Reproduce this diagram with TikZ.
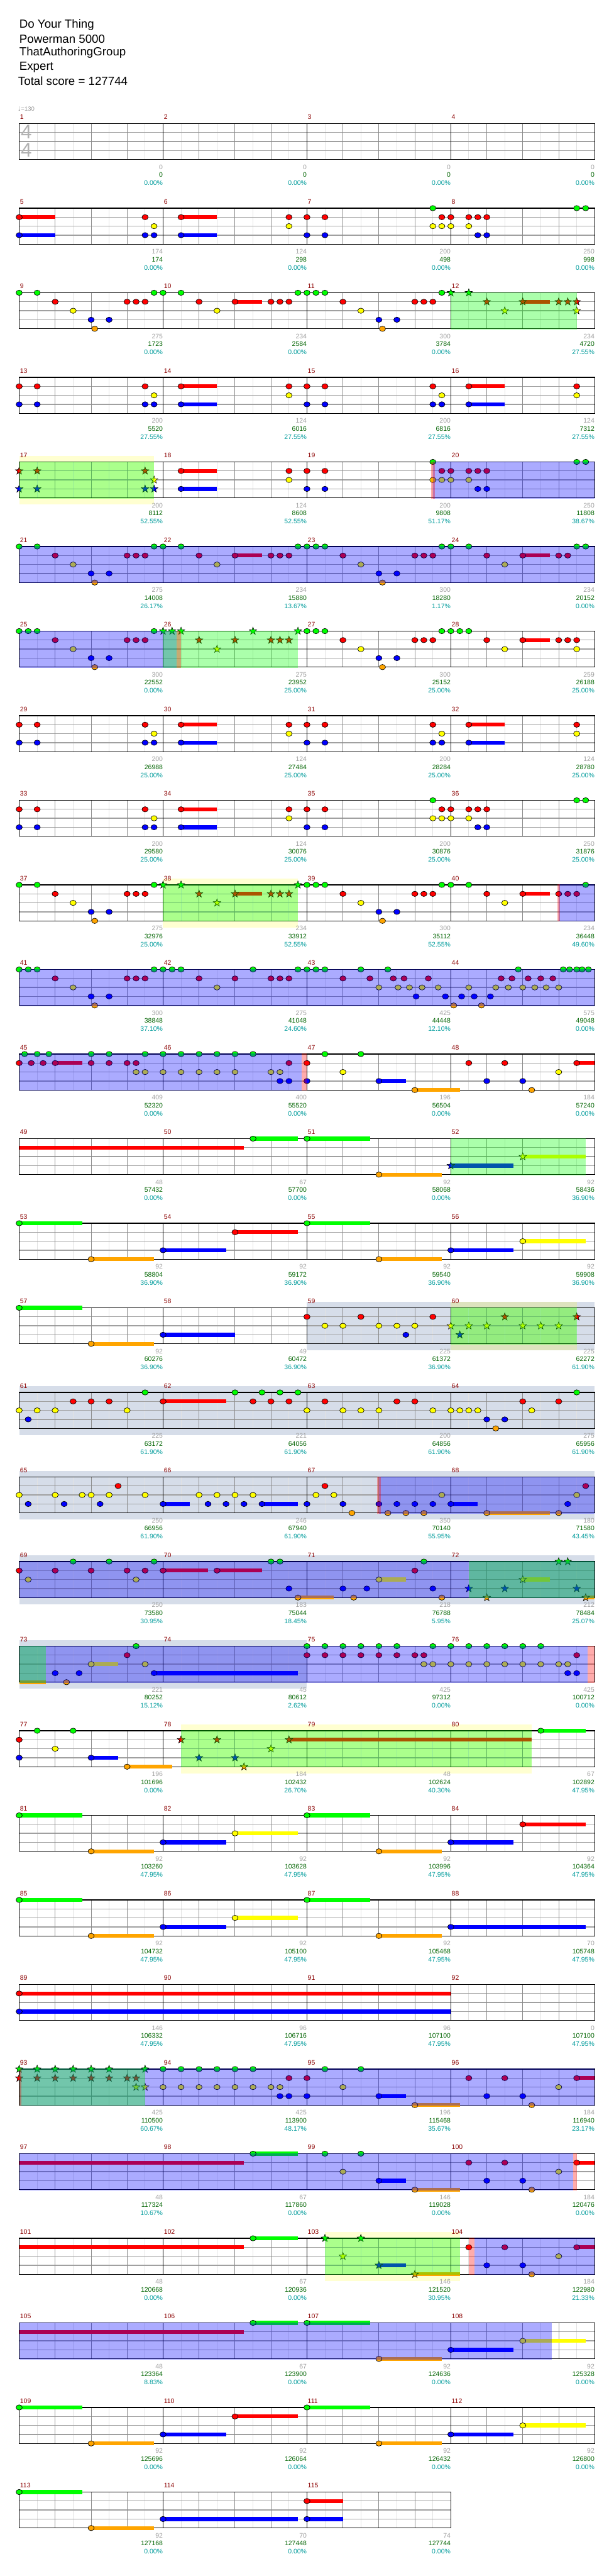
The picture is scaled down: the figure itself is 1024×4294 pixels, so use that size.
\documentclass[tikz,border=0pt]{standalone}
\usepackage{fontspec}
\setmainfont{Liberation Sans}
\newfontfamily\djv{DejaVu Sans}
\definecolor{cG}{HTML}{00FF00}
\definecolor{cR}{HTML}{FF0000}
\definecolor{cY}{HTML}{FFFF00}
\definecolor{cB}{HTML}{0000FF}
\definecolor{cO}{HTML}{FFA500}
\definecolor{gband}{HTML}{D6DDE9}
\definecolor{numgray}{HTML}{A0A0A0}
\definecolor{numgreen}{HTML}{006400}
\definecolor{numteal}{HTML}{009C9C}
\definecolor{mred}{HTML}{8B0000}
\definecolor{eighth}{HTML}{E2E2E2}
\definecolor{strg}{HTML}{A0A0A0}
\definecolor{beatg}{HTML}{8C8C8C}
\tikzset{
  eline/.style={draw=eighth,line width=0.5pt},
  sline/.style={draw=strg,line width=0.7pt},
  bline/.style={draw=beatg,line width=0.5pt},
  barl/.style={draw=black,line width=0.5pt},
  boxl/.style={draw=black,line width=0.75pt},
  gnum/.style={anchor=east,inner sep=0pt,text=numgray,font=\fontsize{5.5}{6}\selectfont},
  cnum/.style={anchor=east,inner sep=0pt,text=numgreen,font=\fontsize{5.5}{6}\selectfont},
  pnum/.style={anchor=east,inner sep=0pt,text=numteal,font=\fontsize{5.5}{6}\selectfont},
  mnum/.style={anchor=west,inner sep=0pt,text=mred,font=\fontsize{5.5}{6}\selectfont},
  ttl/.style={anchor=west,inner sep=0pt,font=\fontsize{9.8}{12}\selectfont},
  tsig/.style={inner sep=0pt,text=black!30,font=\fontsize{16.5}{17}\selectfont},
}
\def\setrow#1{\pgfmathsetmacro\T{206+141*(#1)}\def\rw{#1}}
\def\grid#1{%
  \pgfmathsetmacro\xe{32+240*(#1)}%
  \pgfmathtruncatemacro\ne{8*(#1)}%
  \foreach \i in {1,...,\ne}{\draw[eline] ({32+30*\i},\T) -- ({32+30*\i},{\T+60});}%
  \foreach \k in {1,2,3}{\draw[sline] (32,{\T+15*\k}) -- (\xe,{\T+15*\k});}%
  \foreach \i in {2,4,...,\ne}{\draw[bline] ({32+30*\i},\T) -- ({32+30*\i},{\T+60});}%
  \foreach \i in {8,16,...,\ne}{\draw[barl] ({32+30*\i},\T) -- ({32+30*\i},{\T+60});}%
  \draw[boxl] (32,\T) rectangle (\xe,{\T+60});%
}
\def\nt#1#2#3{\filldraw[fill=#3,draw=black,line width=0.35pt] ({32+30*(#1)},{\T+15*(#2)}) ellipse [x radius=2.6pt, y radius=2.2pt];}
\def\stn#1#2#3{\filldraw[fill=#3,draw=black,line width=0.3pt,shift={({32+30*(#1)},{\T+15*(#2)})}] (90:3.3pt) -- (126:1.35pt) -- (162:3.3pt) -- (198:1.35pt) -- (234:3.3pt) -- (270:1.35pt) -- (306:3.3pt) -- (342:1.35pt) -- (18:3.3pt) -- (54:1.35pt) -- cycle;}
\def\Su#1#2#3#4{\fill[#4] ({32+30*(#1)},{\T+15*(#3)-3.3}) rectangle ({32+30*(#2)},{\T+15*(#3)+3.3});}
\def\nG#1{\foreach \p in {#1}{\nt{\p}{0}{cG}}}
\def\nR#1{\foreach \p in {#1}{\nt{\p}{1}{cR}}}
\def\nY#1{\foreach \p in {#1}{\nt{\p}{2}{cY}}}
\def\nB#1{\foreach \p in {#1}{\nt{\p}{3}{cB}}}
\def\nO#1{\foreach \p in {#1}{\nt{\p}{4}{cO}}}
\def\sG#1{\foreach \p in {#1}{\stn{\p}{0}{cG}}}
\def\sR#1{\foreach \p in {#1}{\stn{\p}{1}{cR}}}
\def\sY#1{\foreach \p in {#1}{\stn{\p}{2}{cY}}}
\def\sB#1{\foreach \p in {#1}{\stn{\p}{3}{cB}}}
\def\sO#1{\foreach \p in {#1}{\stn{\p}{4}{cO}}}
\def\ovSP#1#2{\fill[cB,opacity=0.33] ({32+30*(#1)},{\T-0.8}) rectangle ({32+30*(#2)},{\T+60.8});}
\def\ovGP#1#2{\fill[cG,opacity=0.33] ({32+30*(#1)},{\T-0.8}) rectangle ({32+30*(#2)},{\T+60.8});}
\def\ovPK#1#2{\fill[cR,opacity=0.33] ({32+30*(#1)},{\T-0.8}) rectangle ({32+30*(#2)},{\T+60.8});}
\def\ovYB#1#2{\fill[cY,opacity=0.18] ({32+30*(#1)},{\T-10}) rectangle ({32+30*(#2)},{\T+71});}
\def\ovGB#1#2{\fill[gband] ({32+30*(#1)},{\T-10}) rectangle ({32+30*(#2)},{\T+71});}
\def\RT#1#2#3#4{%
  \foreach \g [count=\k from 0] in {#2}{\pgfmathtruncatemacro\mm{#1+\k}\node[mnum] (m\mm) at ({33+240*\k},{\T-11}) {\mm};}%
  \foreach \g [count=\k] in {#2}{\node[gnum] (g\rw-\k) at ({32+240*\k},{\T+72.5}) {\g};}%
  \foreach \g [count=\k] in {#3}{\node[cnum] (c\rw-\k) at ({32+240*\k},{\T+85.5}) {\g};}%
  \foreach \g [count=\k] in {#4}{\node[pnum] (p\rw-\k) at ({32+240*\k},{\T+99}) {\g\%};}%
}
\def\patC{%
  \Su{9}{11}{1}{cR}\Su{25}{27}{1}{cR}\Su{9}{11}{3}{cB}\Su{25}{27}{3}{cB}%
  \nR{0,1,7,9,15,16,17,23,25,31}\nY{7.5,15,23.5,31}\nB{0,1,7,7.5,9,16,17,23,23.5,25}}
\def\patL{%
  \Su{0}{3.5}{0}{cG}\Su{4}{7.5}{4}{cO}\Su{8}{11.5}{3}{cB}\Su{16}{19.5}{0}{cG}\Su{20}{23.5}{4}{cO}\Su{24}{27.5}{3}{cB}%
  \nG{0,16}\nO{4,20}\nB{8,24}}
\begin{document}
\begin{tikzpicture}[x=0.5pt,y=-0.5pt]
\useasboundingbox (0,0) rectangle (1024,4294);
\fill[white] (0,0) rectangle (1024,4294);
% header
\node[ttl] (t1) at (32,42) {Do Your Thing};
\node[ttl] (t2) at (32,65) {Powerman 5000};
\node[ttl] (t3) at (32,88) {ThatAuthoringGroup};
\node[ttl] (t4) at (32,112) {Expert};
\node[ttl] (t5) at (30,135) {Total score = 127744};
\node[anchor=west,inner sep=0pt,text=black!40,font=\fontsize{5}{6}\selectfont] (tempo) at (30,181) {{\djv ♩}=130};
% row 0
\setrow{0}\grid{4}
\node[tsig] (ts1) at (44,220) {4};
\node[tsig] (ts2) at (44,250) {4};
\RT{1}{0,0,0,0}{0,0,0,0}{0.00,0.00,0.00,0.00}
% row 1
\setrow{1}\grid{4}
\Su{0}{2}{1}{cR}\Su{9}{11}{1}{cR}\Su{0}{2}{3}{cB}\Su{9}{11}{3}{cB}
\nR{0,7,9,15,16,17,23.5,24,25,25.5,26}\nY{7.5,15,23,23.5,24,25}\nB{0,7,7.5,9,16,17,25.5,26}\nG{23,31,31.5}
\RT{5}{174,124,200,250}{174,298,498,998}{0.00,0.00,0.00,0.00}
% row 2
\setrow{2}\grid{4}
\Su{12}{13.5}{1}{cR}\Su{28}{29.5}{1}{cR}
\nG{0,1,7.5,8,9,15.5,16,16.5,17,23.5}\nR{2,6,6.5,7,10,12,14,14.5,15,18,22,22.5,23}\nY{3,11,19}\nB{4,5,20,21}\nO{4.2,20.2}
\sG{24,25}\sR{26,28,30,30.5,31}\sY{27,31}
\ovGP{24}{31}
\RT{9}{275,234,300,234}{1723,2584,3784,4720}{0.00,0.00,0.00,27.55}
% row 3
\setrow{3}\grid{4}
\patC
\RT{13}{200,124,200,124}{5520,6016,6816,7312}{27.55,27.55,27.55,27.55}
% row 4
\setrow{4}\ovYB{0}{7.5}\grid{4}
\Su{9}{11}{1}{cR}\Su{9}{11}{3}{cB}
\sR{0,1,7}\sB{0,1,7,7.5}\sY{7.5}
\nR{9,15,16,17,23.5,24,25,25.5,26}\nY{15,23,23.5,24,25}\nB{9,16,17,25.5,26}\nG{23,31,31.5}
\ovGP{0}{7.5}\ovSP{23}{32}\ovPK{22.9}{23.1}
\RT{17}{200,124,200,250}{8112,8608,9808,11808}{52.55,52.55,51.17,38.67}
% row 5
\setrow{5}\grid{4}
\Su{12}{13.5}{1}{cR}\Su{28}{29.5}{1}{cR}
\nG{0,1,7.5,8,9,15.5,16,16.5,17,23.5,24,25,31,31.5}\nR{2,6,6.5,7,10,12,14,14.5,15,18,22,22.5,23,26,28,30,30.5}\nY{3,11,19,27}\nB{4,5,20,21}\nO{4.2,20.2}
\ovSP{0}{32}
\RT{21}{275,234,300,234}{14008,15880,18280,20152}{26.17,13.67,1.17,0.00}
% row 6
\setrow{6}\grid{4}
\Su{28}{29.5}{1}{cR}
\nG{0,0.5,1,7.5,16,16.5,17,23.5,24,24.5,25}\sG{8,8.5,9,13,15.5}
\nR{2,6,6.5,7,18,22,22.5,23,26,28,30,30.5,31}\sR{10,12,14,14.5,15}
\nY{3,19,27,31}\sY{11}\nB{4,5,20,21}\nO{4.2,20.2}
\ovSP{0}{8.75}\ovGP{8}{15.5}\ovPK{8.75}{9}
\RT{25}{300,275,300,259}{22552,23952,25152,26188}{0.00,25.00,25.00,25.00}
% row 7
\setrow{7}\grid{4}
\patC
\RT{29}{200,124,200,124}{26988,27484,28284,28780}{25.00,25.00,25.00,25.00}
% row 8
\setrow{8}\grid{4}
\Su{9}{11}{1}{cR}\Su{9}{11}{3}{cB}
\nR{0,1,7,9,15,16,17,23.5,24,25,25.5,26}\nY{7.5,15,23,23.5,24,25}\nB{0,1,7,7.5,9,16,17,25.5,26}\nG{23,31,31.5}
\RT{33}{200,124,200,250}{29580,30076,30876,31876}{25.00,25.00,25.00,25.00}
% row 9
\setrow{9}\ovYB{8}{15.5}\grid{4}
\Su{12}{13.5}{1}{cR}\Su{28}{29.5}{1}{cR}
\nG{0,1,7.5,16,16.5,17,23.5,24,25,31.5}\sG{8,9,15.5}
\nR{2,6,6.5,7,18,22,22.5,23,26,28,30,30.5,31}\sR{10,12,14,14.5,15}
\nY{3,19,27}\sY{11}\nB{4,5,20,21}\nO{4.2,20.2}
\ovGP{8}{15.5}\ovSP{30}{32}\ovPK{29.93}{30.07}
\RT{37}{275,234,300,234}{32976,33912,35112,36448}{25.00,52.55,52.55,49.60}
% row 10
\setrow{10}\grid{4}
\nG{0,0.5,1,7.5,8,8.5,9,13,15.5,16,16.5,17,19,20.5,27.75,30.25,30.6,31,31.3,31.65}
\nR{2,6,6.5,7,10,12,14,14.5,15,18,19.5,20.8,21.4,22.75,26.8,27.4,28.3,29,29.67}
\nY{3,11,20,21.07,21.7,22.4,23.3,25,26.5,27.2,28,28.67,29.3,30}
\nB{4,5,22.07,23.7,24.6,25.3,26.2}\nO{4.2,24.16,25.7}
\ovSP{0}{32}
\RT{41}{300,275,425,575}{38848,41048,44448,49048}{37.10,24.60,12.10,0.00}
% row 11
\setrow{11}\grid{4}
\Su{2}{3.5}{1}{cR}\Su{20}{21.5}{3}{cB}\Su{22}{24.5}{4}{cO}\Su{31}{32}{1}{cR}
\nG{0.3,1,1.65,4,5,7,8,9,10,11,12,13,17,19}
\nR{0,0.67,1.33,2,4,5,6,6.5,15,16,25,27,31}
\nY{6.5,7,8,9,10,11,12,14,14.5,18,30}
\nB{14.5,15,16,20,26,28}\nO{22,28.5}
\ovSP{0}{15.7}\ovPK{15.7}{16}
\RT{45}{409,400,196,184}{52320,55520,56504,57240}{0.00,0.00,0.00,0.00}
% row 12
\setrow{12}\grid{4}
\Su{0}{12.5}{1}{cR}\Su{13}{15.5}{0}{cG}\Su{16}{19.5}{0}{cG}\Su{20}{23.5}{4}{cO}\Su{24}{27.5}{3}{cB}\Su{28}{31.5}{2}{cY}
\nG{13,16}\nO{20}\sB{24}\sY{28}
\ovGP{24}{31.5}
\RT{49}{48,67,92,92}{57432,57700,58068,58436}{0.00,0.00,0.00,36.90}
% row 13
\setrow{13}\grid{4}
\patL\Su{12}{15.5}{1}{cR}\Su{28}{31.5}{2}{cY}\nR{12}\nY{28}
\RT{53}{92,92,92,92}{58804,59172,59540,59908}{36.90,36.90,36.90,36.90}
% row 14
\setrow{14}\ovGB{16}{32}\ovYB{24}{31}\grid{4}
\Su{0}{3.5}{0}{cG}\Su{4}{7.5}{4}{cO}\Su{8}{12}{3}{cB}
\nG{0}\nO{4}\nB{8,21.5}\nR{16,19,23}\sR{27,31}\nY{17,18,20,21,22}\sY{24,25,26,28,29,30}\sB{24.5}
\ovGP{24}{31}
\RT{57}{92,49,225,225}{60276,60472,61372,62272}{36.90,36.90,36.90,61.90}
% row 15
\setrow{15}\ovGB{0}{32}\grid{4}
\Su{8}{11.5}{1}{cR}
\nG{7,12,13.5,14.5,15.5,31}
\nR{3,4,5,8,13,14,15,17,21,22,28,30}
\nY{0,1,2,6,16,18,19,20,23,24,24.5,25,25.5,28.5}
\nB{0.5,26,27}\nO{26.5}
\RT{61}{225,221,200,275}{63172,64056,64856,65956}{61.90,61.90,61.90,61.90}
% row 16
\setrow{16}\ovGB{0}{32}\grid{4}
\Su{8}{9.5}{3}{cB}\Su{13.5}{15.5}{3}{cB}\Su{24}{25.5}{3}{cB}\Su{26}{29.5}{4}{cO}
\nR{5.5,17,31.5}
\nY{0,2,3.5,4,5,7,10,11,12,13,16.5,17.5,23.5,31}
\nB{0.5,2.5,4.5,8,10.5,11.5,12.5,13.5,16,18,20,21,22,23,24,30.5}
\nO{18.5,20.5,21.5,22.5,26,30}
\ovSP{20}{32}\ovPK{19.9}{20.1}
\RT{65}{250,246,350,180}{66956,67940,70140,71580}{61.90,61.90,55.95,43.45}
% row 17
\setrow{17}\ovGB{0}{32}\grid{4}
\Su{8}{10.5}{1}{cR}\Su{11}{13.5}{1}{cR}\Su{20}{21.5}{2}{cY}\Su{28}{29.5}{2}{cY}\Su{15.5}{17.5}{4}{cO}\Su{31.5}{32}{4}{cO}
\nG{3,5,7.5,14,14.5,22.5}\sG{30,30.5}
\nR{0,2,4,6,7,8,11,22}
\nY{0.5,6.5,20}\sY{28}
\nB{15,18,19.33,23}\sB{25,27,31}
\nO{15.5,18.6,23.5}\sO{26,31.5}
\ovSP{0}{32}\ovGP{25}{32}
\RT{69}{250,183,218,212}{73580,75044,76788,78484}{30.95,18.45,5.95,25.07}
% row 18
\setrow{18}\ovGB{0}{16}\grid{4}
\Su{0}{1.5}{4}{cO}\Su{4}{5.5}{2}{cY}\Su{7.5}{15.5}{3}{cB}
\nG{6.5,16,17,18,19,20,21,23,24,25,26,27,28,29}
\nR{6,16,17,18,19,20,21,22,22.5,31}
\nY{4,7,22.5,23,24,25,26,27,28,29,30,30.5}
\nB{2,3.33,7.5,30.5,31}\nO{2.63}
\ovSP{0}{31.6}\ovGP{0}{1.5}\ovPK{31.6}{32}
\RT{73}{221,45,425,425}{80252,80612,97312,100712}{15.12,2.62,0.00,0.00}
% row 19
\setrow{19}\ovYB{9}{28.5}\grid{4}
\Su{29}{31.5}{0}{cG}\Su{15}{28.5}{1}{cR}\Su{4}{5.5}{3}{cB}\Su{6}{8.5}{4}{cO}
\nG{1,3,29}\nR{0}\sR{9,11,15}\nY{2}\sY{14}\nB{0,4}\sB{10,12}\nO{6}\sO{12.5}
\ovGP{9}{28.5}
\RT{77}{196,184,48,67}{101696,102432,102624,102892}{0.00,26.70,40.30,47.95}
% row 20
\setrow{20}\grid{4}
\patL\Su{12}{15.5}{2}{cY}\Su{28}{31.5}{1}{cR}\nY{12}\nR{28}
\RT{81}{92,92,92,92}{103260,103628,103996,104364}{47.95,47.95,47.95,47.95}
% row 21
\setrow{21}\grid{4}
\Su{0}{3.5}{0}{cG}\Su{4}{7.5}{4}{cO}\Su{8}{11.5}{3}{cB}\Su{12}{15.5}{2}{cY}\Su{16}{19.5}{0}{cG}\Su{20}{23.5}{4}{cO}\Su{24}{31.5}{3}{cB}
\nG{0,16}\nO{4,20}\nB{8,24}\nY{12}
\RT{85}{92,92,92,70}{104732,105100,105468,105748}{47.95,47.95,47.95,47.95}
% row 22
\setrow{22}\grid{4}
\Su{0}{24}{1}{cR}\Su{0}{24}{3}{cB}\nR{0}\nB{0}
\RT{89}{146,96,96,0}{106332,106716,107100,107100}{47.95,47.95,47.95,47.95}
% row 23
\setrow{23}\grid{4}
\Su{20}{21.5}{3}{cB}\Su{22}{24.5}{4}{cO}\Su{31}{32}{1}{cR}
\sG{0,1,2,3,4,5,7}\sR{0,1,2,3,4,5,6,6.5}\sY{6.5,7}
\nG{8,9,10,11,12,13,17,19}
\nR{15,16,25,27,31}
\nY{8,9,10,11,12,13,14,14.5,18,30}
\nB{14.5,15,16,20,26,28}\nO{22,28.5}
\ovSP{0}{32}\ovGP{0}{7}\ovPK{0}{0.12}
\RT{93}{425,425,196,184}{110500,113900,115468,116940}{60.67,48.17,35.67,23.17}
% row 24
\setrow{24}\grid{4}
\Su{0}{12.5}{1}{cR}\Su{13}{15.5}{0}{cG}\Su{20}{21.5}{3}{cB}\Su{22}{24.5}{4}{cO}\Su{31}{32}{1}{cR}
\nG{13,17,19}\nY{18,30}\nB{20,26,28}\nO{22,28.5}\nR{25,27,31}
\ovSP{0}{30.8}\ovPK{30.8}{31}
\RT{97}{48,67,146,184}{117324,117860,119028,120476}{10.67,0.00,0.00,0.00}
% row 25
\setrow{25}\ovYB{17}{24.5}\grid{4}
\Su{0}{12.5}{1}{cR}\Su{13}{15.5}{0}{cG}\Su{20}{21.5}{3}{cB}\Su{22}{24.5}{4}{cO}\Su{31}{32}{1}{cR}
\nG{13}\sG{17,19}\sY{18}\sB{20}\sO{22}
\nR{25,27,31}\nY{30}\nB{26,28}\nO{28.5}
\ovGP{17}{24.5}\ovPK{25}{25.3}\ovSP{25.3}{32}
\RT{101}{48,67,146,184}{120668,120936,121520,122980}{0.00,0.00,30.95,21.33}
% row 26
\setrow{26}\grid{4}
\Su{0}{12.5}{1}{cR}\Su{13}{15.5}{0}{cG}\Su{16}{19.5}{0}{cG}\Su{20}{23.5}{4}{cO}\Su{24}{27.5}{3}{cB}\Su{28}{31.5}{2}{cY}
\nG{13,16}\nO{20}\nB{24}\nY{28}
\ovSP{0}{29.6}
\RT{105}{48,67,92,92}{123364,123900,124636,125328}{8.83,0.00,0.00,0.00}
% row 27
\setrow{27}\grid{4}
\patL\Su{12}{15.5}{1}{cR}\Su{28}{31.5}{2}{cY}\nR{12}\nY{28}
\RT{109}{92,92,92,92}{125696,126064,126432,126800}{0.00,0.00,0.00,0.00}
% row 28
\setrow{28}\grid{3}
\Su{0}{3.5}{0}{cG}\Su{4}{7.5}{4}{cO}\Su{8}{15.5}{3}{cB}\Su{16}{18}{1}{cR}\Su{16}{18}{3}{cB}
\nG{0}\nO{4}\nB{8,16}\nR{16}
\RT{113}{92,70,74}{127168,127448,127744}{0.00,0.00,0.00}
\end{tikzpicture}
\end{document}
